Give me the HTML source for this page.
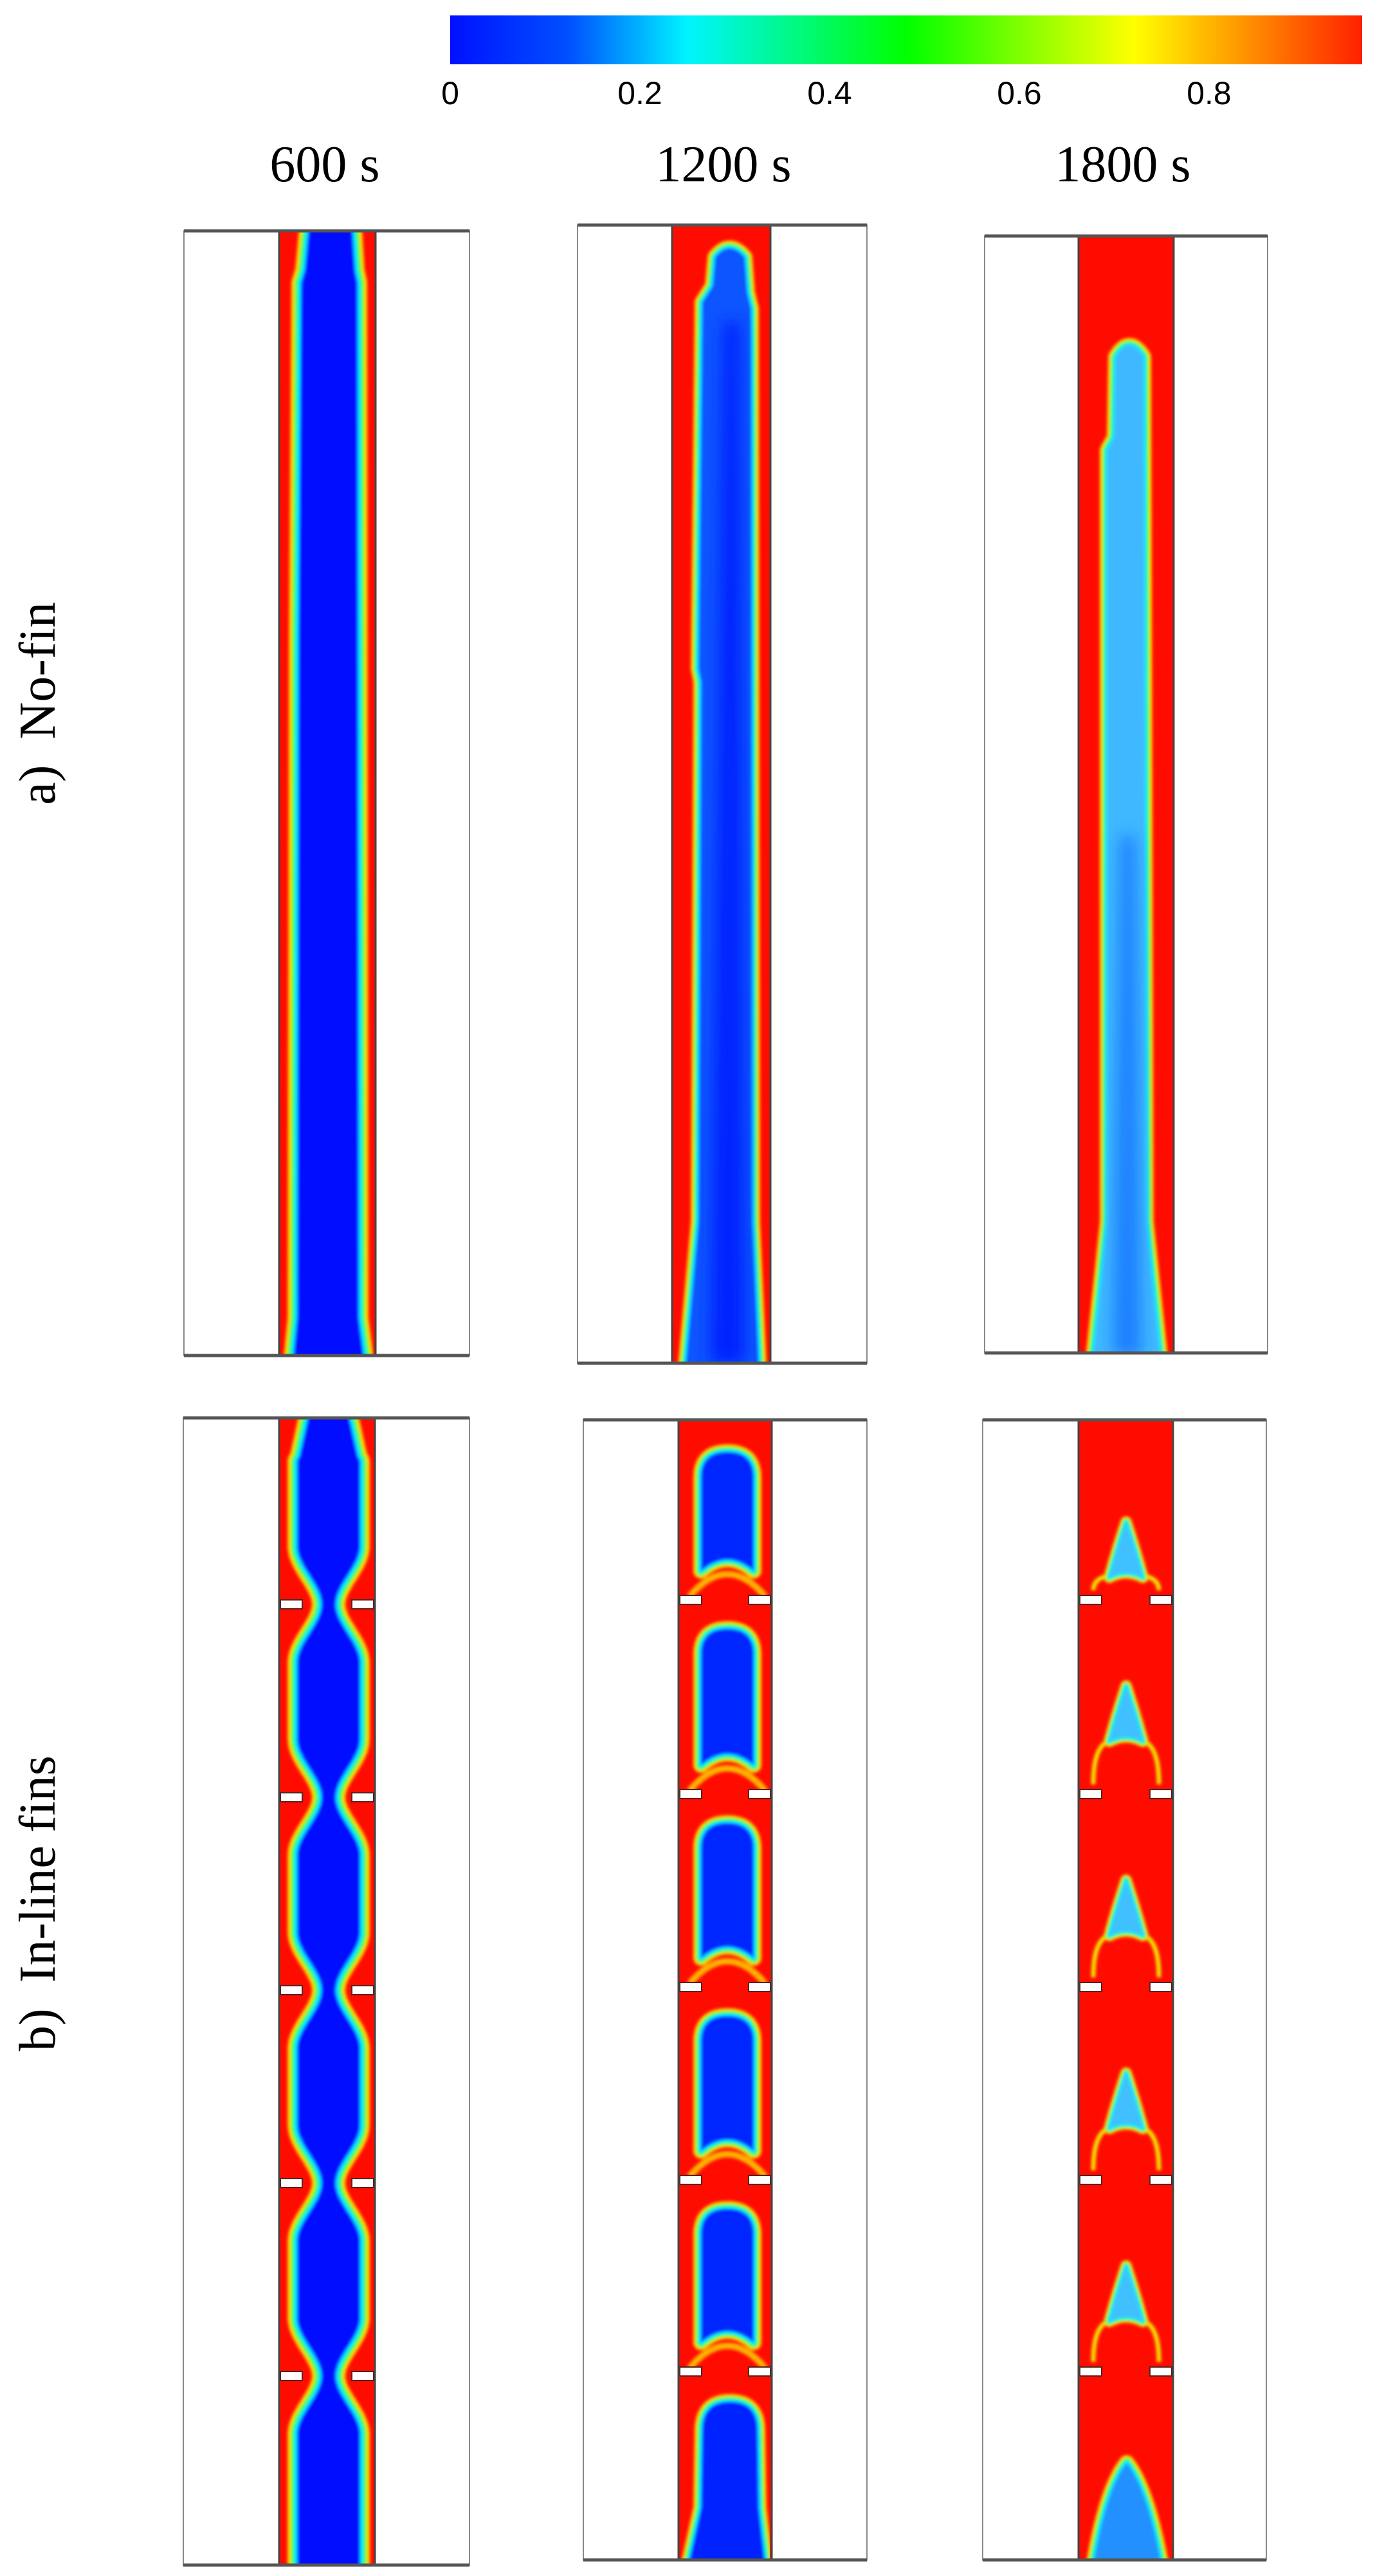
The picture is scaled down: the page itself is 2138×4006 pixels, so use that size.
<!DOCTYPE html>
<html><head><meta charset="utf-8"><style>
html,body{margin:0;padding:0;background:#fff;}
svg{display:block;}
text{font-family:"Liberation Serif",serif;}
.cb{font-family:"Liberation Sans",sans-serif;}
</style></head><body>
<svg id="fig" width="2138" height="4006" viewBox="0 0 2138 4006" xmlns="http://www.w3.org/2000/svg">
<defs>
<linearGradient id="jet" x1="0" x2="1" y1="0" y2="0">
<stop offset="0" stop-color="#0010ff"/><stop offset="0.13" stop-color="#0050ff"/><stop offset="0.26" stop-color="#00f4ff"/><stop offset="0.5" stop-color="#00ff00"/><stop offset="0.75" stop-color="#ffff00"/><stop offset="1" stop-color="#ff2000"/>
</linearGradient>
<filter id="soft" x="-20%" y="-5%" width="140%" height="110%"><feGaussianBlur stdDeviation="2.5"/></filter>
<filter id="wide" x="-50%" y="-5%" width="200%" height="110%"><feGaussianBlur stdDeviation="12"/></filter>
</defs>
<g id="colorbar"></g>
<g id="panels"></g>
<text x="85" y="1094" font-size="80" text-anchor="middle" transform="rotate(-90 85 1094)">a)&#160;&#160;No-fin</text>
<text x="85" y="2960" font-size="80" text-anchor="middle" transform="rotate(-90 85 2960)">b)&#160;&#160;In-line fins</text>
</svg>
<script>
const cbTicks=[0,0.2,0.4,0.6,0.8];
const cbTickLabels=["0","0.2","0.4","0.6","0.8"];
const timeLabels=["600 s","1200 s","1800 s"];
const finY1=[2495,2795,3095,3395,3695];
const finY23=[2488,2790,3090,3390,3688];

const NS="http://www.w3.org/2000/svg";
const svg=document.getElementById('fig');
function el(tag,attrs,parent){const e=document.createElementNS(NS,tag);for(const k in attrs)e.setAttribute(k,attrs[k]);(parent||svg).appendChild(e);return e;}

const cb=document.getElementById('colorbar');
const cbX0=700,cbX1=2118,cbFull=1475;
const cbScale=v=>cbX0+v*cbFull;
const bar=el('rect',{x:cbX0,y:24,width:cbX1-cbX0,height:76,fill:'url(#jet)'},cb);


cbTicks.forEach((v,i)=>{
  const t=el('text',{x:cbScale(v),y:162,'font-size':50,'text-anchor':'middle','class':'cb'},cb);
  t.textContent=cbTickLabels[i];
  
  
});

const colCenters=[505,1125,1746];
timeLabels.forEach((s,i)=>{
  const t=el('text',{x:colCenters[i],y:282,'font-size':80,'text-anchor':'middle'});
  t.textContent=s;
  
  
});

const panels=document.getElementById('panels');
let clipId=0;
function panel(name,bx0,bx1,by0,by1,tx0,tx1){
  const g=el('g',{},panels);
  
  
  el('rect',{x:bx0,y:by0,width:bx1-bx0,height:by1-by0,fill:'#fff',stroke:'#8a8a8a','stroke-width':2},g);
  el('rect',{x:tx0,y:by0,width:tx1-tx0,height:by1-by0,fill:'#ff0c00'},g);
  const cid='c'+(clipId++);
  const cp=el('clipPath',{id:cid},g);
  el('rect',{x:tx0+3,y:by0,width:tx1-tx0-6,height:by1-by0},cp);
  const inner=el('g',{'clip-path':'url(#'+cid+')'},g);
  const fx=el('g',{filter:'url(#soft)'},inner);
  return {g,fx,inner,tx0,tx1,by0,by1,bx0,bx1};
}
function finish(p,fins){
  const g=p.g;
  if(fins){fins.forEach(y=>{
    [[p.tx0+2,y-7],[p.tx1-36,y-7]].forEach(([x,yy])=>{
      const f=el('rect',{x:x,y:yy,width:34,height:14,fill:'#fff',stroke:'#5a2020','stroke-width':2},g);
      
      
    });
  });}
  el('line',{x1:p.tx0,x2:p.tx0,y1:p.by0,y2:p.by1,stroke:'#444','stroke-width':3},g);
  el('line',{x1:p.tx1,x2:p.tx1,y1:p.by0,y2:p.by1,stroke:'#444','stroke-width':3},g);
  el('line',{x1:p.bx0,x2:p.bx1,y1:p.by0,y2:p.by0,stroke:'#555','stroke-width':5},g);
  el('line',{x1:p.bx0,x2:p.bx1,y1:p.by1,y2:p.by1,stroke:'#555','stroke-width':5},g);
}
function band(parent,d,core,w){
  w=w||1;
  el('path',{d:d,fill:'#ffff00',stroke:'#ffd000','stroke-width':30*w,'stroke-linejoin':'round'},parent);
  el('path',{d:d,fill:'#40ff30',stroke:'#40ff30','stroke-width':20*w,'stroke-linejoin':'round'},parent);
  el('path',{d:d,fill:'#00e8ff',stroke:'#00e8ff','stroke-width':10*w,'stroke-linejoin':'round'},parent);
  el('path',{d:d,fill:core},parent);
}
function edgePath(ys,left,right){
  let d='M'+left(ys[0])+' '+ys[0];
  ys.forEach(y=>d+=' L'+left(y).toFixed(1)+' '+y);
  for(let i=ys.length-1;i>=0;i--)d+=' L'+right(ys[i]).toFixed(1)+' '+ys[i];
  return d+' Z';
}

// a1
let p=panel('panel-nofin-600s',286,730,359,2108,434,584);
band(p.fx,'M480 355 L548 355 L552 420 L556 440 L558 2050 L566 2112 L456 2112 L462 2050 L464 1000 L468 440 L474 420 Z','#0010ff');
finish(p);
// a2
p=panel('panel-nofin-1200s',898,1348,350,2120,1045,1198);
band(p.fx,'M1112 400 Q1134 372 1158 400 L1162 455 L1168 480 L1170 1900 L1180 2125 L1066 2125 L1086 1900 L1090 1060 L1086 1040 L1092 470 L1108 445 Z','#0a55ff',0.8);
el('path',{d:'M1125 500 L1150 500 L1158 2120 L1105 2120 Z',fill:'#0020ff',filter:'url(#wide)'},p.inner);
finish(p);
// a3
p=panel('panel-nofin-1800s',1531,1971,367,2104,1677,1825);
band(p.fx,'M1735 555 Q1756 520 1778 555 L1782 1900 L1804 2110 L1700 2110 L1722 1900 L1722 700 L1733 680 Z','#40b8ff',0.8);
el('path',{d:'M1742 1300 L1765 1300 L1775 2110 L1730 2110 Z',fill:'#1a80ff',filter:'url(#wide)'},p.inner);
finish(p);

// b1
p=panel('panel-fins-600s',285,730,2205,3989,434,583);
{const ys=[];for(let y=2200;y<=3995;y+=8)ys.push(y);
 const hw=y=>{let d=1e9;finY1.forEach(f=>{d=Math.min(d,Math.abs(y-f));});
   let s=Math.min(1,d/90);s=s*s*(3-2*s);let h=10+38*s;
   if(y<2270)h=Math.min(h,30+(y-2200)*0.22);return h;};
 band(p.fx,edgePath(ys,y=>510-hw(y),y=>512+hw(y)),'#0010ff');}
finish(p,finY1);

// b2
p=panel('panel-fins-1200s',907,1348,2208,3981,1055,1200);
{const tops=[2258].concat(finY23.slice(0,4).map(f=>f+45));
 tops.forEach((t,i)=>{const b=finY23[i]-45,L=1090,R=1172,c=(L+R)/2;
   el('path',{d:`M${L-18} ${b+40} Q${c} ${b-30} ${R+18} ${b+40}`,fill:'none',stroke:'#ffb000','stroke-width':10},p.fx);
   band(p.fx,`M${L} ${b} L${L} ${t+40} Q${L} ${t} ${c} ${t} Q${R} ${t} ${R} ${t+40} L${R} ${b} Q${c} ${b-35} ${L} ${b} Z`,'#0028ff',0.8);
 });
 band(p.fx,'M1092 3780 Q1092 3735 1135 3735 Q1178 3735 1178 3780 L1180 3900 L1190 3990 L1070 3990 L1090 3900 Z','#0020ff',0.8);}
finish(p,finY23);

// b3
p=panel('panel-fins-1800s',1528,1969,2208,3981,1677,1824);
{const segTops=[2233].concat(finY23.slice(0,4));
 segTops.forEach((t,i)=>{const apex=t+134,base=apex+86,f=finY23[i];
   el('path',{d:`M1700 ${f-15} C1700 ${base} 1722 ${base-5} 1751 ${base-5} C1780 ${base-5} 1802 ${base} 1802 ${f-15}`,fill:'none',stroke:'#f0e000','stroke-width':7},p.fx);
   band(p.fx,`M1751 ${apex} Q1736 ${apex+45} 1725 ${base} Q1751 ${base-14} 1777 ${base} Q1766 ${apex+45} 1751 ${apex} Z`,'#40c0ff',0.6);
 });
 band(p.fx,'M1752 3830 Q1720 3870 1700 3990 L1806 3990 Q1784 3870 1752 3830 Z','#2090ff',0.8);}
finish(p,finY23);
</script>
</body></html>
